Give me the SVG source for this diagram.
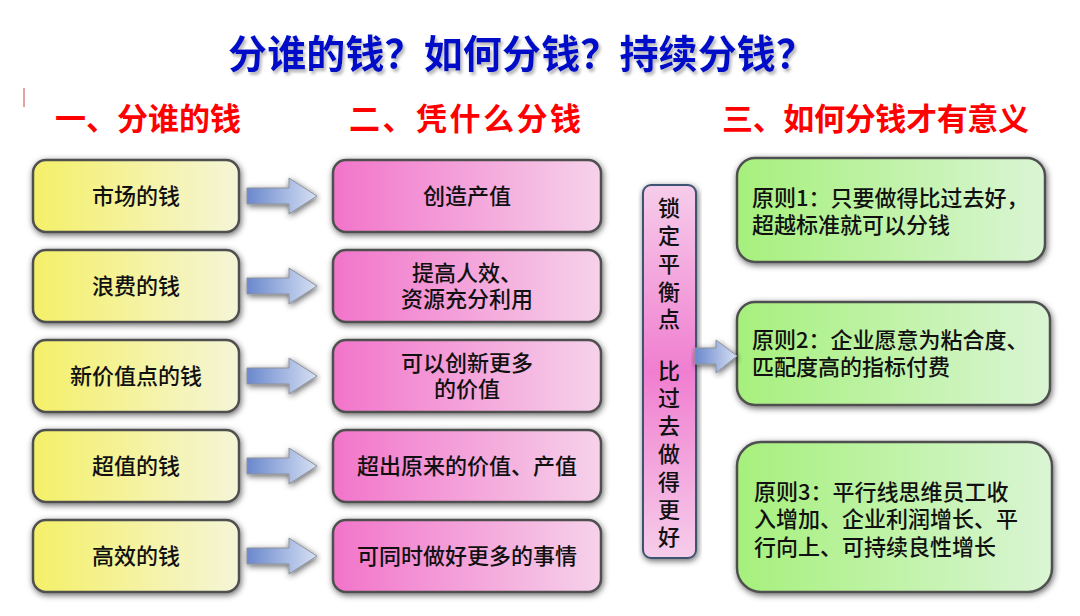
<svg xmlns="http://www.w3.org/2000/svg" width="1080" height="616" viewBox="0 0 1080 616">
<defs>
<linearGradient id="gy" x1="0" y1="0" x2="1" y2="0"><stop offset="0" stop-color="#F4F068"/><stop offset="1" stop-color="#F5F5D8"/></linearGradient>
<linearGradient id="gp" x1="0" y1="0" x2="1" y2="0"><stop offset="0" stop-color="#F274CA"/><stop offset="1" stop-color="#F6D2EA"/></linearGradient>
<linearGradient id="gg" x1="0" y1="0" x2="1" y2="0"><stop offset="0" stop-color="#A6F07C"/><stop offset="1" stop-color="#DAF5D4"/></linearGradient>
<linearGradient id="gv" x1="0" y1="0" x2="0" y2="1"><stop offset="0" stop-color="#F6CDEA"/><stop offset="0.5" stop-color="#F07ED0"/><stop offset="1" stop-color="#F6CDEA"/></linearGradient>
<linearGradient id="ga" x1="0" y1="0" x2="1" y2="0"><stop offset="0" stop-color="#6A88CC"/><stop offset="1" stop-color="#D6E0F4"/></linearGradient>
<filter id="sh" x="-10%" y="-20%" width="120%" height="140%">
<feGaussianBlur in="SourceAlpha" stdDeviation="3"/>
<feOffset dx="1" dy="2" result="b"/>
<feFlood flood-color="#000" flood-opacity="0.6"/>
<feComposite in2="b" operator="in"/>
<feMerge><feMergeNode/><feMergeNode in="SourceGraphic"/></feMerge>
</filter>
<filter id="ts" x="-5%" y="-20%" width="110%" height="150%">
<feGaussianBlur in="SourceAlpha" stdDeviation="1.5"/>
<feOffset dx="2" dy="3" result="b"/>
<feFlood flood-color="#888" flood-opacity="0.6"/>
<feComposite in2="b" operator="in"/>
<feMerge><feMergeNode/><feMergeNode in="SourceGraphic"/></feMerge>
</filter>
<path id="arr" d="M0,-8 H42 V-18 L70,0 L42,18 V8 H0 Z"/>
</defs>
<style>
.t{font-family:"Noto Sans CJK SC","Noto Sans",sans-serif;font-size:22px;font-weight:500;fill:#111;}
.c{text-anchor:middle;}
.box{stroke:#505050;stroke-width:2.5;filter:url(#sh);}
.ar{fill:url(#ga);stroke:#8a8f9a;stroke-width:1;filter:url(#sh);}
.h{font-family:"Noto Sans CJK SC","Noto Sans",sans-serif;font-size:31px;font-weight:bold;fill:#FF0000;}
</style>
<rect width="1080" height="616" fill="#fff"/>
<g id="title"><text x="228" y="68" textLength="587" font-family="Noto Sans CJK SC, sans-serif" font-size="39" font-weight="bold" fill="#0010C8" filter="url(#ts)">分谁的钱？如何分钱？持续分钱？</text></g>
<line x1="24" y1="88" x2="24" y2="107" stroke="#D04040" stroke-width="1"/>
<g id="headers">
<text class="h" x="55" y="130" textLength="186">一、分谁的钱</text>
<text class="h" x="349" y="130" textLength="232">二、凭什么分钱</text>
<text class="h" x="722" y="130" textLength="307">三、如何分钱才有意义</text>
</g>
<g id="col1">
<g id="y1"><rect class="box" x="33" y="160" width="206" height="72" rx="13" fill="url(#gy)"/><text class="t c" x="136" y="204">市场的钱</text></g>
<g id="y2"><rect class="box" x="33" y="250" width="206" height="72" rx="13" fill="url(#gy)"/><text class="t c" x="136" y="294">浪费的钱</text></g>
<g id="y3"><rect class="box" x="33" y="340" width="206" height="72" rx="13" fill="url(#gy)"/><text class="t c" x="136" y="384">新价值点的钱</text></g>
<g id="y4"><rect class="box" x="33" y="430" width="206" height="72" rx="13" fill="url(#gy)"/><text class="t c" x="136" y="474">超值的钱</text></g>
<g id="y5"><rect class="box" x="33" y="520" width="206" height="72" rx="13" fill="url(#gy)"/><text class="t c" x="136" y="564">高效的钱</text></g>
</g>
<g id="col2">
<g id="p1"><rect class="box" x="333" y="160" width="268" height="72" rx="13" fill="url(#gp)"/><text class="t c" x="467" y="204">创造产值</text></g>
<g id="p2"><rect class="box" x="333" y="250" width="268" height="72" rx="13" fill="url(#gp)"/><text class="t c" x="467" y="281">提高人效、</text><text class="t c" x="467" y="307">资源充分利用</text></g>
<g id="p3"><rect class="box" x="333" y="340" width="268" height="72" rx="13" fill="url(#gp)"/><text class="t c" x="467" y="371">可以创新更多</text><text class="t c" x="467" y="397">的价值</text></g>
<g id="p4"><rect class="box" x="333" y="430" width="268" height="72" rx="13" fill="url(#gp)"/><text class="t c" x="467" y="474">超出原来的价值、产值</text></g>
<g id="p5"><rect class="box" x="333" y="520" width="268" height="72" rx="13" fill="url(#gp)"/><text class="t c" x="467" y="564">可同时做好更多的事情</text></g>
</g>
<g id="vbox">
<rect x="643" y="185" width="53" height="373" rx="8" fill="url(#gv)" stroke="#3E5272" stroke-width="2" filter="url(#sh)"/>
<text class="t c" x="669" y="216">锁</text>
<text class="t c" x="669" y="244">定</text>
<text class="t c" x="669" y="272">平</text>
<text class="t c" x="669" y="300">衡</text>
<text class="t c" x="669" y="327">点</text>
<text class="t c" x="669" y="379">比</text>
<text class="t c" x="669" y="406">过</text>
<text class="t c" x="669" y="434">去</text>
<text class="t c" x="669" y="462">做</text>
<text class="t c" x="669" y="490">得</text>
<text class="t c" x="669" y="518">更</text>
<text class="t c" x="669" y="545">好</text>
</g>
<g id="green">
<g id="g1"><rect class="box" x="737" y="158" width="308" height="104" rx="18" fill="url(#gg)"/><text class="t" x="752" y="206">原则1：只要做得比过去好，</text><text class="t" x="752" y="233">超越标准就可以分钱</text></g>
<g id="g2"><rect class="box" x="737" y="302" width="313" height="103" rx="18" fill="url(#gg)"/><text class="t" x="752" y="348">原则2：企业愿意为粘合度、</text><text class="t" x="752" y="375">匹配度高的指标付费</text></g>
<g id="g3"><rect class="box" x="737" y="442" width="315" height="150" rx="24" fill="url(#gg)"/><text class="t" x="754" y="500">原则3：平行线思维员工收</text><text class="t" x="754" y="527">入增加、企业利润增长、平</text><text class="t" x="754" y="555">行向上、可持续良性增长</text></g>
</g>
<g id="connectors">
<use href="#arr" class="ar" transform="translate(247,196)"/>
<use href="#arr" class="ar" transform="translate(247,286)"/>
<use href="#arr" class="ar" transform="translate(247,376)"/>
<use href="#arr" class="ar" transform="translate(247,466)"/>
<use href="#arr" class="ar" transform="translate(247,556)"/>
<path class="ar" d="M695,348 H716 V340 L737,356 L716,373 V364 H695 Z"/>
</g>
</svg>
